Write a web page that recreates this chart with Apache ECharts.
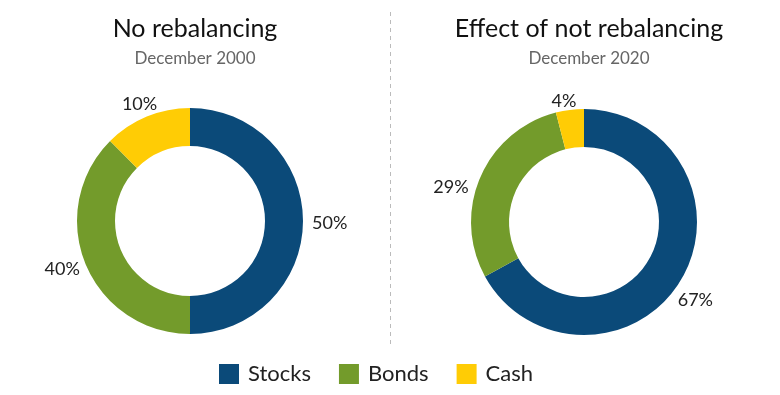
<!DOCTYPE html>
<html>
<head>
<meta charset="utf-8">
<script src="https://cdn.jsdelivr.net/npm/echarts@6/dist/echarts.min.js"></script>
<style>
  html, body { margin: 0; padding: 0; background: #fff; }
  #chart { width: 780px; height: 395px; }
</style>
</head>
<body>
<div id="chart"></div>
<script>
const categories = ['Stocks', 'Bonds', 'Cash'];
const colors = ['#0B4A79', '#739B2B', '#FFCC05'];

// slice sizes as drawn, and the labels printed next to them
const values2000 = [50, 37.5, 12.5];
const labels2000 = ['50%', '40%', '10%'];
const values2020 = [67, 29, 4];
const labels2020 = ['67%', '29%', '4%'];

const titles = ['No rebalancing', 'Effect of not rebalancing'];
const subtitles = ['December 2000', 'December 2020'];

// nudges so the labels sit where the original put them
const nudge2000 = [[0, 2], [3, 3], [17, -9]];
const nudge2020 = [[-12, 19], [-3, 12], [12, -5]];

const fontFamily = 'Lato, "Open Sans", sans-serif';

const chart = echarts.init(document.getElementById('chart'));

const buildPie = (center, values, labels, nudge) => ({
  type: 'pie',
  center: center,
  radius: [75, 113],
  startAngle: 90,
  clockwise: true,
  silent: true,
  label: {
    show: true,
    position: 'outside',
    fontFamily: fontFamily,
    fontSize: 18,
    color: '#222',
    formatter: p => labels[p.dataIndex]
  },
  labelLine: { show: false, length: 4, length2: 0 },
  labelLayout: params => ({
    dx: nudge[params.dataIndex][0],
    dy: nudge[params.dataIndex][1]
  }),
  data: categories.map((name, i) => ({
    name: name,
    value: values[i],
    itemStyle: { color: colors[i] }
  }))
});

const options = {
  animation: false,
  title: titles.map((t, i) => ({
    text: t,
    subtext: subtitles[i],
    left: i === 0 ? 190 : 584,
    top: 11,
    textAlign: 'center',
    itemGap: 9,
    textStyle: { fontFamily: fontFamily, fontSize: 25, fontWeight: 'normal', color: '#111' },
    subtextStyle: { fontFamily: fontFamily, fontSize: 17, color: '#666' }
  })),
  legend: {
    data: categories,
    left: 214,
    top: 358,
    itemWidth: 20,
    itemHeight: 20,
    itemGap: 28,
    icon: 'rect',
    textStyle: { fontFamily: fontFamily, fontSize: 22, color: '#222', padding: [0, 0, 0, 4] }
  },
  color: colors,
  graphic: [
    {
      type: 'line',
      shape: { x1: 390.5, y1: 12, x2: 390.5, y2: 348 },
      style: { stroke: '#bbb', lineWidth: 1, lineDash: [4, 4] }
    }
  ],
  series: [
    buildPie([190, 221], values2000, labels2000, nudge2000),
    buildPie([584, 222], values2020, labels2020, nudge2020)
  ]
};

chart.setOption(options);

window.addEventListener('resize', () => chart.resize());
</script>
</body>
</html>
